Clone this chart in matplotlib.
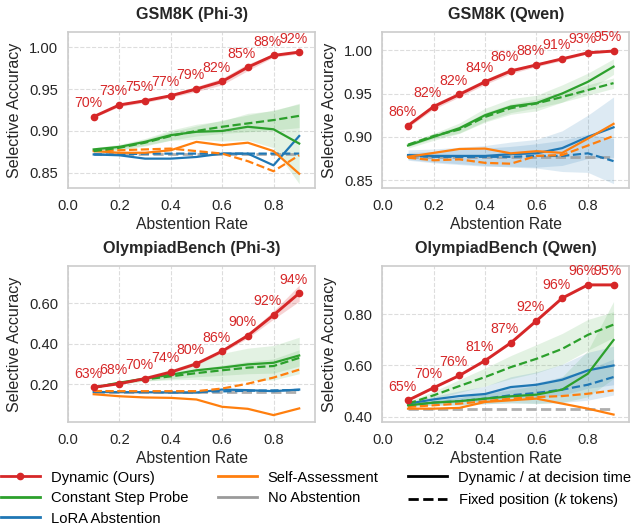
import numpy as np
import matplotlib
matplotlib.use("Agg")
import matplotlib.pyplot as plt
from matplotlib.lines import Line2D

plt.rcParams['font.family'] = ['Liberation Sans', 'DejaVu Sans']
plt.rcParams['mathtext.fontset'] = 'custom'
plt.rcParams['mathtext.it'] = 'Liberation Sans:italic'
plt.rcParams['mathtext.rm'] = 'Liberation Sans'

# abstention rates
rates = [0.1, 0.2, 0.3, 0.4, 0.5, 0.6, 0.7, 0.8, 0.9]

# ---- GSM8K (Phi-3)
phi_gsm_dyn = [0.917, 0.931, 0.936, 0.942, 0.950, 0.959, 0.976, 0.990, 0.994]
phi_gsm_dyn_err = [0.001, 0.002, 0.002, 0.002, 0.003, 0.004, 0.004, 0.002, 0.002]
phi_gsm_labels = ["70%", "73%", "75%", "77%", "79%", "82%", "85%", "88%", "92%"]
phi_gsm_csp = [0.878, 0.881, 0.887, 0.895, 0.899, 0.900, 0.905, 0.902, 0.885]
phi_gsm_csp_err = [0.002, 0.003, 0.004, 0.006, 0.009, 0.012, 0.016, 0.022, 0.048]
phi_gsm_csp_fix = [0.876, 0.880, 0.886, 0.894, 0.900, 0.905, 0.909, 0.913, 0.918]
phi_gsm_csp_fix_err = [0.002, 0.003, 0.004, 0.005, 0.006, 0.008, 0.010, 0.012, 0.014]
phi_gsm_self = [0.876, 0.874, 0.874, 0.877, 0.887, 0.883, 0.886, 0.876, 0.849]
phi_gsm_self_fix = [0.876, 0.877, 0.878, 0.879, 0.876, 0.873, 0.864, 0.852, 0.871]
phi_gsm_lora = [0.872, 0.871, 0.867, 0.867, 0.869, 0.873, 0.873, 0.859, 0.894]
phi_gsm_lora_fix = [0.872, 0.872, 0.873, 0.873, 0.873, 0.873, 0.873, 0.873, 0.873]
phi_gsm_noabs = 0.873

# ---- GSM8K (Qwen)
qwen_gsm_dyn = [0.913, 0.935, 0.949, 0.9635, 0.976, 0.983, 0.990, 0.997, 0.999]
qwen_gsm_dyn_err = [0.002, 0.003, 0.003, 0.003, 0.003, 0.002, 0.002, 0.001, 0.001]
qwen_gsm_labels = ["86%", "82%", "82%", "84%", "86%", "88%", "91%", "93%", "95%"]
qwen_gsm_csp = [0.890, 0.900, 0.910, 0.925, 0.935, 0.939, 0.950, 0.9635, 0.981]
qwen_gsm_csp_err = [0.003, 0.004, 0.006, 0.008, 0.009, 0.009, 0.010, 0.010, 0.009]
qwen_gsm_csp_fix = [0.891, 0.901, 0.9085, 0.923, 0.933, 0.9385, 0.946, 0.954, 0.962]
qwen_gsm_csp_fix_err = [0.002, 0.003, 0.004, 0.005, 0.005, 0.005, 0.006, 0.006, 0.006]
qwen_gsm_self = [0.877, 0.8815, 0.886, 0.8865, 0.881, 0.8835, 0.8815, 0.898, 0.915]
qwen_gsm_self_fix = [0.876, 0.873, 0.874, 0.870, 0.869, 0.878, 0.879, 0.890, 0.901]
qwen_gsm_lora = [0.879, 0.878, 0.878, 0.878, 0.880, 0.881, 0.887, 0.900, 0.911]
qwen_gsm_lora_err = [0.006, 0.008, 0.010, 0.012, 0.014, 0.016, 0.020, 0.025, 0.035]
qwen_gsm_lora_fix = [0.878, 0.877, 0.877, 0.877, 0.877, 0.878, 0.878, 0.881, 0.872]
qwen_gsm_lora_fix_err = [0.004, 0.006, 0.008, 0.010, 0.012, 0.014, 0.018, 0.022, 0.026]
qwen_gsm_noabs = 0.877

# ---- OlympiadBench (Phi-3)
phi_oly_dyn = [0.185, 0.203, 0.228, 0.260, 0.301, 0.363, 0.440, 0.541, 0.649]
phi_oly_dyn_err = [0.002, 0.003, 0.004, 0.005, 0.006, 0.008, 0.012, 0.020, 0.040]
phi_oly_labels = ["63%", "68%", "70%", "74%", "80%", "86%", "90%", "92%", "94%"]
phi_oly_csp = [0.184, 0.208, 0.228, 0.247, 0.269, 0.282, 0.298, 0.306, 0.342]
phi_oly_csp_err = [0.003, 0.006, 0.012, 0.025, 0.045, 0.070, 0.080, 0.085, 0.090]
phi_oly_csp_fix = [0.184, 0.2065, 0.2245, 0.239, 0.255, 0.269, 0.282, 0.290, 0.330]
phi_oly_csp_fix_err = [0.003, 0.005, 0.008, 0.012, 0.018, 0.025, 0.030, 0.035, 0.040]
phi_oly_self = [0.151, 0.141, 0.135, 0.133, 0.125, 0.089, 0.079, 0.048, 0.081]
phi_oly_self_fix = [0.167, 0.166, 0.166, 0.166, 0.166, 0.179, 0.203, 0.233, 0.272]
phi_oly_lora = [0.162, 0.161, 0.161, 0.159, 0.159, 0.174, 0.171, 0.166, 0.174]
phi_oly_lora_fix = [0.163, 0.163, 0.163, 0.163, 0.163, 0.165, 0.168, 0.170, 0.172]
phi_oly_noabs = 0.163

# ---- OlympiadBench (Qwen)
qwen_oly_dyn = [0.4645, 0.5135, 0.561, 0.619, 0.688, 0.774, 0.862, 0.9135, 0.9135]
qwen_oly_dyn_err = [0.002, 0.003, 0.003, 0.003, 0.004, 0.004, 0.004, 0.003, 0.003]
qwen_oly_labels = ["65%", "70%", "76%", "81%", "87%", "92%", "96%", "96%", "95%"]
qwen_oly_csp = [0.445, 0.4555, 0.461, 0.471, 0.480, 0.4865, 0.506, 0.568, 0.699]
qwen_oly_csp_err = [0.005, 0.010, 0.015, 0.020, 0.025, 0.035, 0.050, 0.090, 0.150]
qwen_oly_csp_fix = [0.4516, 0.484, 0.520, 0.555, 0.5935, 0.626, 0.6645, 0.719, 0.759]
qwen_oly_csp_fix_err = [0.008, 0.015, 0.025, 0.035, 0.045, 0.055, 0.060, 0.060, 0.050]
qwen_oly_self = [0.432, 0.432, 0.435, 0.458, 0.4645, 0.471, 0.4516, 0.432, 0.409]
qwen_oly_self_fix = [0.4387, 0.445, 0.4516, 0.4606, 0.471, 0.477, 0.481, 0.490, 0.503]
qwen_oly_lora = [0.4516, 0.468, 0.481, 0.489, 0.516, 0.525, 0.5445, 0.581, 0.600]
qwen_oly_lora_err = [0.005, 0.012, 0.020, 0.030, 0.040, 0.050, 0.060, 0.070, 0.075]
qwen_oly_lora_fix = [0.445, 0.4555, 0.461, 0.471, 0.484, 0.493, 0.506, 0.525, 0.555]
qwen_oly_lora_fix_err = [0.005, 0.010, 0.015, 0.020, 0.030, 0.040, 0.050, 0.060, 0.070]
qwen_oly_noabs = 0.43

RED, GREEN, BLUE, ORANGE, GRAY = "#d62728", "#2ca02c", "#1f77b4", "#ff7f0e", "#9a9a9a"

fig = plt.figure(figsize=(6.32, 5.26), dpi=100)


def band(ax, y, err, color, alpha=0.13):
    y = np.array(y)
    err = np.array(err)
    ax.fill_between(rates, y - err, y + err, color=color, alpha=alpha, lw=0)


def panel(rect, title, dyn, dyn_err, labels, csp, csp_err, csp_fix, csp_fix_err,
          self_, self_fix, lora, lora_fix, noabs, ylim, yticks,
          lora_err=None, lora_fix_err=None):
    ax = fig.add_axes(rect)
    band(ax, csp, csp_err, GREEN)
    band(ax, csp_fix, csp_fix_err, GREEN)
    if lora_err is not None:
        band(ax, lora, lora_err, BLUE, 0.15)
        band(ax, lora_fix, lora_fix_err, BLUE, 0.15)
    band(ax, dyn, dyn_err, RED, 0.2)

    ax.plot(rates, [noabs] * len(rates), color=GRAY, ls="--", lw=2, alpha=0.8)
    ax.plot(rates, lora_fix, color=BLUE, ls="--", lw=1.6)
    ax.plot(rates, lora, color=BLUE, lw=1.6)
    ax.plot(rates, self_fix, color=ORANGE, ls="--", lw=1.6)
    ax.plot(rates, self_, color=ORANGE, lw=1.6)
    ax.plot(rates, csp_fix, color=GREEN, ls="--", lw=1.6)
    ax.plot(rates, csp, color=GREEN, lw=1.6)
    ax.plot(rates, dyn, color=RED, lw=2.1, marker="o", ms=4.5)

    for x, y, t in zip(rates, dyn, labels):
        ax.annotate(t, (x, y), xytext=(-4.2, 9.8), textcoords="offset points",
                    ha="center", va="center", color=RED, fontsize=10.2)

    ax.set_xlim(0, 0.962)
    ax.set_ylim(*ylim)
    ax.set_xticks([0.0, 0.2, 0.4, 0.6, 0.8])
    ax.set_yticks(yticks)
    ax.yaxis.set_major_formatter(matplotlib.ticker.FormatStrFormatter("%.2f"))
    ax.tick_params(length=0, labelsize=10.6, labelcolor="#262626")
    ax.tick_params(axis="x", pad=8)
    ax.tick_params(axis="y", pad=7)
    ax.grid(True, ls="--", lw=0.8, color="#dddddd")
    ax.set_axisbelow(True)
    for s in ax.spines.values():
        s.set_color("#cccccc")
        s.set_linewidth(1.2)
    ax.set_title(title, fontsize=11.6, fontweight="bold", pad=9, color="#262626")
    ax.set_xlabel("Abstention Rate", fontsize=11.3, color="#262626", labelpad=3)
    ax.set_ylabel("Selective Accuracy", fontsize=11.6, color="#262626", labelpad=5)
    return ax


L1, L2, W = 0.1076, 0.605, 0.391
B1, B2, H = 0.6426, 0.1977, 0.2966

panel([L1, B1, W, H], "GSM8K (Phi-3)", phi_gsm_dyn, phi_gsm_dyn_err, phi_gsm_labels,
      phi_gsm_csp, phi_gsm_csp_err, phi_gsm_csp_fix, phi_gsm_csp_fix_err,
      phi_gsm_self, phi_gsm_self_fix, phi_gsm_lora, phi_gsm_lora_fix, phi_gsm_noabs,
      (0.832, 1.018), [0.85, 0.90, 0.95, 1.00])

panel([L2, B1, W, H], "GSM8K (Qwen)", qwen_gsm_dyn, qwen_gsm_dyn_err, qwen_gsm_labels,
      qwen_gsm_csp, qwen_gsm_csp_err, qwen_gsm_csp_fix, qwen_gsm_csp_fix_err,
      qwen_gsm_self, qwen_gsm_self_fix, qwen_gsm_lora, qwen_gsm_lora_fix, qwen_gsm_noabs,
      (0.841, 1.021), [0.85, 0.90, 0.95, 1.00],
      lora_err=qwen_gsm_lora_err, lora_fix_err=qwen_gsm_lora_fix_err)

panel([L1, B2, W, H], "OlympiadBench (Phi-3)", phi_oly_dyn, phi_oly_dyn_err, phi_oly_labels,
      phi_oly_csp, phi_oly_csp_err, phi_oly_csp_fix, phi_oly_csp_fix_err,
      phi_oly_self, phi_oly_self_fix, phi_oly_lora, phi_oly_lora_fix, phi_oly_noabs,
      (0.014, 0.783), [0.20, 0.40, 0.60])

panel([L2, B2, W, H], "OlympiadBench (Qwen)", qwen_oly_dyn, qwen_oly_dyn_err, qwen_oly_labels,
      qwen_oly_csp, qwen_oly_csp_err, qwen_oly_csp_fix, qwen_oly_csp_fix_err,
      qwen_oly_self, qwen_oly_self_fix, qwen_oly_lora, qwen_oly_lora_fix, qwen_oly_noabs,
      (0.38, 0.987), [0.40, 0.60, 0.80],
      lora_err=qwen_oly_lora_err, lora_fix_err=qwen_oly_lora_fix_err)

handles = [
    Line2D([], [], color=RED, lw=2, marker="o", ms=4.5),
    Line2D([], [], color=GREEN, lw=2),
    Line2D([], [], color=BLUE, lw=2),
    Line2D([], [], color=ORANGE, lw=2),
    Line2D([], [], color=GRAY, lw=2),
    Line2D([], [], color="black", lw=2),
    Line2D([], [], color="black", lw=2, ls="--"),
]
names = ["Dynamic (Ours)", "Constant Step Probe", "LoRA Abstention", "Self-Assessment",
         "No Abstention", "Dynamic / at decision time", "Fixed position ($k$ tokens)"]
fig.legend(handles, names, loc="lower center", bbox_to_anchor=(0.5, -0.016), ncol=3,
           frameon=False, fontsize=10.6, handlelength=2.65, handletextpad=0.75,
           columnspacing=2.0, labelspacing=0.44, borderaxespad=0.2)

fig.savefig("out.png", dpi=100)
